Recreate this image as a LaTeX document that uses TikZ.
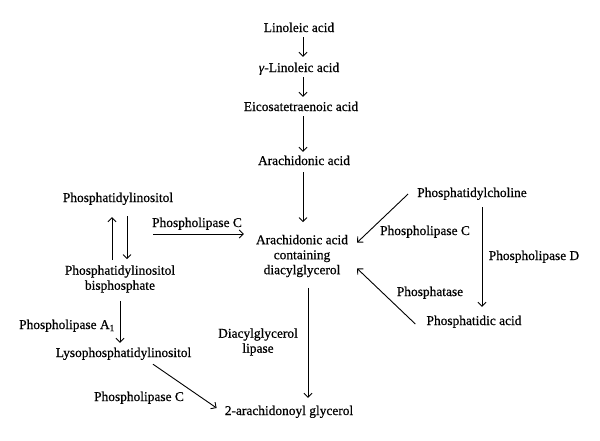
\documentclass[tikz,border=0pt]{standalone}
\usepackage{fontspec}
\setmainfont{Liberation Serif}[FakeBold=0.6]
\usetikzlibrary{arrows.meta}
\begin{document}
\begin{tikzpicture}[x=1pt,y=-1pt,
  txt/.style={inner sep=2pt,font=\fontsize{13.4}{15}\selectfont,text height=9pt,text depth=3pt},
  mtxt/.style={inner sep=2pt,font=\fontsize{13.4}{15}\selectfont,align=center},
  arr/.style={line width=0.9pt,-{Straight Barb[length=4pt,width=8pt,line width=0.9pt]}}]
\useasboundingbox (0,0) rectangle (600,440);
% nodes
\node[txt] (la) at (299,29) {Linoleic acid};
\node[txt] (gla) at (299,69) {\textit{γ}-Linoleic acid};
\node[txt] (eta) at (301,108) {Eicosatetraenoic acid};
\node[txt] (aa) at (304,162) {Arachidonic acid};
\node[mtxt] (dag) at (302,256) {Arachidonic acid\\containing\\diacylglycerol};
\node[txt] (pi) at (118,199) {Phosphatidylinositol};
\node[mtxt] (pip2) at (120,279) {Phosphatidylinositol\\bisphosphate};
\node[txt] (pc) at (472,194) {Phosphatidylcholine};
\node[txt] (pa) at (474,322) {Phosphatidic acid};
\node[txt] (lpi) at (123.5,354) {Lysophosphatidylinositol};
\node[txt] (ag) at (289,412) {2-arachidonoyl glycerol};
% enzyme labels
\node[txt] (plc1) at (197,224) {Phospholipase C};
\node[txt] (plc2) at (425,232) {Phospholipase C};
\node[txt] (pld) at (534,257) {Phospholipase D};
\node[txt] (pase) at (430,293) {Phosphatase};
\node[txt] (pla1) at (67,326) {Phospholipase A\textsubscript{1}};
\node[mtxt] (dgl) at (258,342) {Diacylglycerol\\lipase};
\node[txt] (plc3) at (139,398) {Phospholipase C};
% helper coordinates
\coordinate (axis) at (303,0);
\coordinate (dagx) at (308,0);
\coordinate (pcx) at (482,0);
\coordinate (plcstart) at (153,234);
% connectors
\draw[arr,shorten >=4pt] (la.south -| axis) -- (gla.north -| axis);
\draw[arr,shorten >=3pt] (gla.south -| axis) -- (eta.north -| axis);
\draw[arr,shorten >=2pt] (eta.south -| axis) -- (aa.north -| axis);
\draw[arr,shorten <=2pt,shorten >=10.5pt] (aa.south -| axis) -- (dag.north -| axis);
\draw[arr,shorten <=8.5pt,shorten >=6pt] (dag.south -| dagx) -- (ag.north -| dagx);
\draw[arr,shorten <=3pt,shorten >=10pt] ([xshift=-8pt]pip2.north) -- ([xshift=-6pt]pi.south);
\draw[arr,shorten <=9pt,shorten >=4pt] ([xshift=9pt]pi.south) -- ([xshift=7pt]pip2.north);
\draw[arr,shorten <=6pt,shorten >=3pt] (pip2.south) -- (pip2.south |- lpi.north);
\draw[arr,shorten <=5pt,shorten >=7pt] (pc.south -| pcx) -- (pa.north -| pcx);
\draw[arr,shorten >=10pt] (plcstart) -- (plcstart -| dag.west);
\draw[arr] ([xshift=-7pt]pc.west) -- ([xshift=7pt,yshift=13.5pt]dag.east);
\draw[arr] ([xshift=-9pt,yshift=-2pt]pa.west) -- ([xshift=7pt,yshift=-12.5pt]dag.east);
\draw[arr] ([xshift=29.5pt,yshift=-2pt]lpi.south) -- ([xshift=-6pt,yshift=4pt]ag.west);
\end{tikzpicture}
\end{document}
